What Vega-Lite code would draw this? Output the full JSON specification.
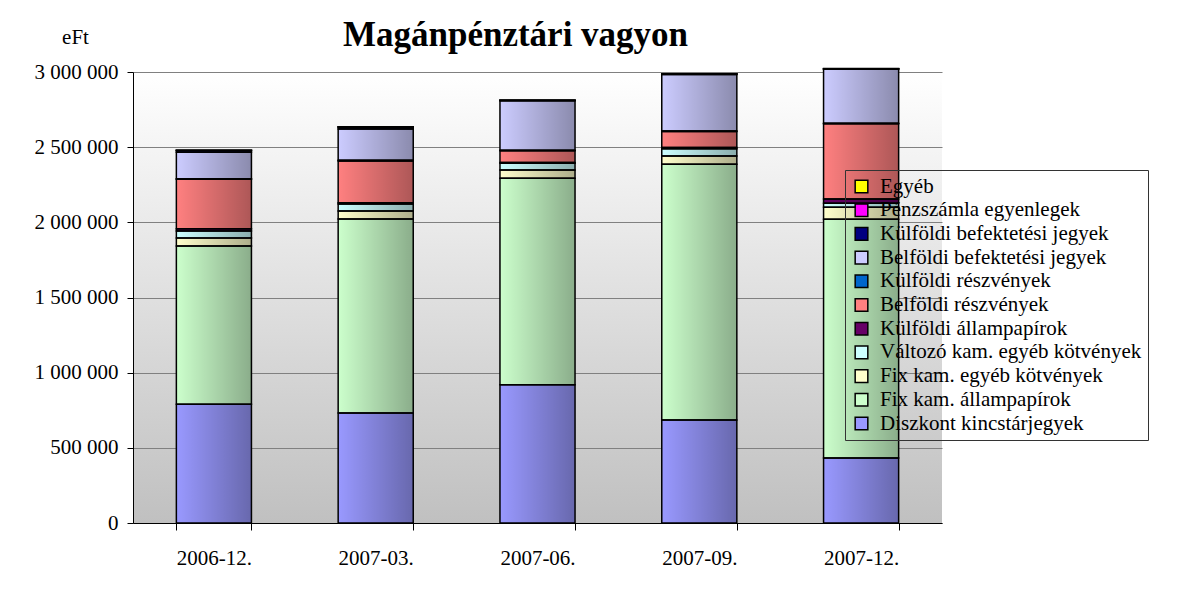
{
  "$schema": "https://vega.github.io/schema/vega-lite/v6.json",
  "width": 809,
  "height": 451,
  "autosize": {"type": "none"},
  "padding": {"left": 133, "top": 72, "right": 244, "bottom": 68},
  "background": "white",
  "config": {
    "locale": {"number": {"decimal": ",", "thousands": " ", "grouping": [3], "currency": ["", ""]}},
    "font": "Liberation Serif",
    "view": {"stroke": null, "fill": {"gradient": "linear", "x1": 0, "y1": 0, "x2": 0, "y2": 1, "stops": [{"offset": 0, "color": "#ffffff"}, {"offset": 1, "color": "#c0c0c0"}]}}
  },
  "title": {"text": "Magánpénztári vagyon", "font": "Liberation Serif", "fontSize": 35, "fontWeight": "bold", "color": "black", "anchor": "middle", "dx": -22, "offset": -27},
  "data": {"values": [
    {"period": "2006-12.", "cat": "Diszkont kincstárjegyek", "idx": 0, "value": 790000},
    {"period": "2006-12.", "cat": "Fix kam. állampapírok", "idx": 1, "value": 1052000},
    {"period": "2006-12.", "cat": "Fix kam. egyéb kötvények", "idx": 2, "value": 53000},
    {"period": "2006-12.", "cat": "Változó kam. egyéb kötvények", "idx": 3, "value": 47000},
    {"period": "2006-12.", "cat": "Külföldi állampapírok", "idx": 4, "value": 15000},
    {"period": "2006-12.", "cat": "Belföldi részvények", "idx": 5, "value": 330000},
    {"period": "2006-12.", "cat": "Külföldi részvények", "idx": 6, "value": 3000},
    {"period": "2006-12.", "cat": "Belföldi befektetési jegyek", "idx": 7, "value": 177000},
    {"period": "2006-12.", "cat": "Külföldi befektetési jegyek", "idx": 8, "value": 10000},
    {"period": "2006-12.", "cat": "Pénzszámla egyenlegek", "idx": 9, "value": 2000},
    {"period": "2006-12.", "cat": "Egyéb", "idx": 10, "value": 1000},

    {"period": "2007-03.", "cat": "Diszkont kincstárjegyek", "idx": 0, "value": 731000},
    {"period": "2007-03.", "cat": "Fix kam. állampapírok", "idx": 1, "value": 1291000},
    {"period": "2007-03.", "cat": "Fix kam. egyéb kötvények", "idx": 2, "value": 53000},
    {"period": "2007-03.", "cat": "Változó kam. egyéb kötvények", "idx": 3, "value": 47000},
    {"period": "2007-03.", "cat": "Külföldi állampapírok", "idx": 4, "value": 9000},
    {"period": "2007-03.", "cat": "Belföldi részvények", "idx": 5, "value": 277000},
    {"period": "2007-03.", "cat": "Külföldi részvények", "idx": 6, "value": 5000},
    {"period": "2007-03.", "cat": "Belföldi befektetési jegyek", "idx": 7, "value": 208000},
    {"period": "2007-03.", "cat": "Külföldi befektetési jegyek", "idx": 8, "value": 12000},
    {"period": "2007-03.", "cat": "Pénzszámla egyenlegek", "idx": 9, "value": 2000},
    {"period": "2007-03.", "cat": "Egyéb", "idx": 10, "value": 1000},

    {"period": "2007-06.", "cat": "Diszkont kincstárjegyek", "idx": 0, "value": 920000},
    {"period": "2007-06.", "cat": "Fix kam. állampapírok", "idx": 1, "value": 1373000},
    {"period": "2007-06.", "cat": "Fix kam. egyéb kötvények", "idx": 2, "value": 55000},
    {"period": "2007-06.", "cat": "Változó kam. egyéb kötvények", "idx": 3, "value": 45000},
    {"period": "2007-06.", "cat": "Külföldi állampapírok", "idx": 4, "value": 5000},
    {"period": "2007-06.", "cat": "Belföldi részvények", "idx": 5, "value": 78000},
    {"period": "2007-06.", "cat": "Külföldi részvények", "idx": 6, "value": 3000},
    {"period": "2007-06.", "cat": "Belföldi befektetési jegyek", "idx": 7, "value": 330000},
    {"period": "2007-06.", "cat": "Külföldi befektetési jegyek", "idx": 8, "value": 2000},
    {"period": "2007-06.", "cat": "Pénzszámla egyenlegek", "idx": 9, "value": 1000},
    {"period": "2007-06.", "cat": "Egyéb", "idx": 10, "value": 1000},

    {"period": "2007-09.", "cat": "Diszkont kincstárjegyek", "idx": 0, "value": 685000},
    {"period": "2007-09.", "cat": "Fix kam. állampapírok", "idx": 1, "value": 1701000},
    {"period": "2007-09.", "cat": "Fix kam. egyéb kötvények", "idx": 2, "value": 55000},
    {"period": "2007-09.", "cat": "Változó kam. egyéb kötvények", "idx": 3, "value": 49000},
    {"period": "2007-09.", "cat": "Külföldi állampapírok", "idx": 4, "value": 8000},
    {"period": "2007-09.", "cat": "Belföldi részvények", "idx": 5, "value": 106000},
    {"period": "2007-09.", "cat": "Külföldi részvények", "idx": 6, "value": 3000},
    {"period": "2007-09.", "cat": "Belföldi befektetési jegyek", "idx": 7, "value": 377000},
    {"period": "2007-09.", "cat": "Külföldi befektetési jegyek", "idx": 8, "value": 3000},
    {"period": "2007-09.", "cat": "Pénzszámla egyenlegek", "idx": 9, "value": 1000},
    {"period": "2007-09.", "cat": "Egyéb", "idx": 10, "value": 1000},

    {"period": "2007-12.", "cat": "Diszkont kincstárjegyek", "idx": 0, "value": 432000},
    {"period": "2007-12.", "cat": "Fix kam. állampapírok", "idx": 1, "value": 1588000},
    {"period": "2007-12.", "cat": "Fix kam. egyéb kötvények", "idx": 2, "value": 80000},
    {"period": "2007-12.", "cat": "Változó kam. egyéb kötvények", "idx": 3, "value": 27000},
    {"period": "2007-12.", "cat": "Külföldi állampapírok", "idx": 4, "value": 28000},
    {"period": "2007-12.", "cat": "Belföldi részvények", "idx": 5, "value": 500000},
    {"period": "2007-12.", "cat": "Külföldi részvények", "idx": 6, "value": 4000},
    {"period": "2007-12.", "cat": "Belföldi befektetési jegyek", "idx": 7, "value": 360000},
    {"period": "2007-12.", "cat": "Külföldi befektetési jegyek", "idx": 8, "value": 2000},
    {"period": "2007-12.", "cat": "Pénzszámla egyenlegek", "idx": 9, "value": 1000},
    {"period": "2007-12.", "cat": "Egyéb", "idx": 10, "value": 1000}
  ]},
  "encoding": {
    "x": {
      "field": "period", "type": "nominal", "sort": null,
      "scale": {"paddingInner": 0.536, "paddingOuter": 0.268},
      "axis": {"title": null, "labelAngle": 0, "labelFont": "Liberation Serif", "labelFontSize": 21, "labelColor": "black", "labelPadding": 17, "tickSize": 7, "tickColor": "black", "tickBand": "extent", "domainColor": "black", "domainWidth": 1, "grid": false}
    },
    "y": {
      "field": "value", "type": "quantitative", "stack": "zero",
      "scale": {"domain": [0, 3000000], "nice": false},
      "axis": {"title": "eFt", "titleAngle": 0, "titleX": -58, "titleY": -35, "titleAlign": "center", "titleBaseline": "middle", "titleFont": "Liberation Serif", "titleFontSize": 21, "titleFontWeight": "normal", "titleColor": "black",
        "values": [0, 500000, 1000000, 1500000, 2000000, 2500000, 3000000], "format": ",.0f",
        "labelFont": "Liberation Serif", "labelFontSize": 21, "labelColor": "black", "labelPadding": 9, "tickSize": 6, "tickColor": "black", "domainColor": "black", "domainWidth": 1, "grid": true, "gridColor": "#808080", "gridWidth": 1}
    },
    "order": {"field": "idx", "type": "quantitative", "sort": "ascending"}
  },
  "layer": [
    {
      "mark": {"type": "bar", "strokeWidth": 0},
      "encoding": {
        "color": {
          "field": "cat", "type": "nominal",
          "scale": {
            "domain": ["Egyéb", "Pénzszámla egyenlegek", "Külföldi befektetési jegyek", "Belföldi befektetési jegyek", "Külföldi részvények", "Belföldi részvények", "Külföldi állampapírok", "Változó kam. egyéb kötvények", "Fix kam. egyéb kötvények", "Fix kam. állampapírok", "Diszkont kincstárjegyek"],
            "range": ["#FFFF00", "#FF00FF", "#000080", "#CCCCFF", "#0066CC", "#FF8080", "#660066", "#CCFFFF", "#FFFFCC", "#CCFFCC", "#9999FF"]
          },
          "legend": {"title": null, "orient": "none", "legendX": 712, "legendY": 98, "symbolType": "square", "symbolSize": 160, "symbolStrokeColor": "black", "symbolStrokeWidth": 1.5, "symbolOpacity": 1, "labelFont": "Liberation Serif", "labelFontSize": 21, "labelColor": "black", "labelOffset": 8, "labelLimit": 400, "strokeColor": "#333333", "padding": 6, "rowPadding": 1.7}
        }
      }
    },
    {
      "mark": {"type": "bar", "stroke": "black", "strokeWidth": 1.5, "fill": {"gradient": "linear", "x1": 0, "y1": 0, "x2": 1, "y2": 0, "stops": [{"offset": 0, "color": "rgba(0,0,0,0)"}, {"offset": 1, "color": "rgba(0,0,0,0.32)"}]}},
      "encoding": {"detail": {"field": "cat", "type": "nominal"}}
    }
  ]
}
